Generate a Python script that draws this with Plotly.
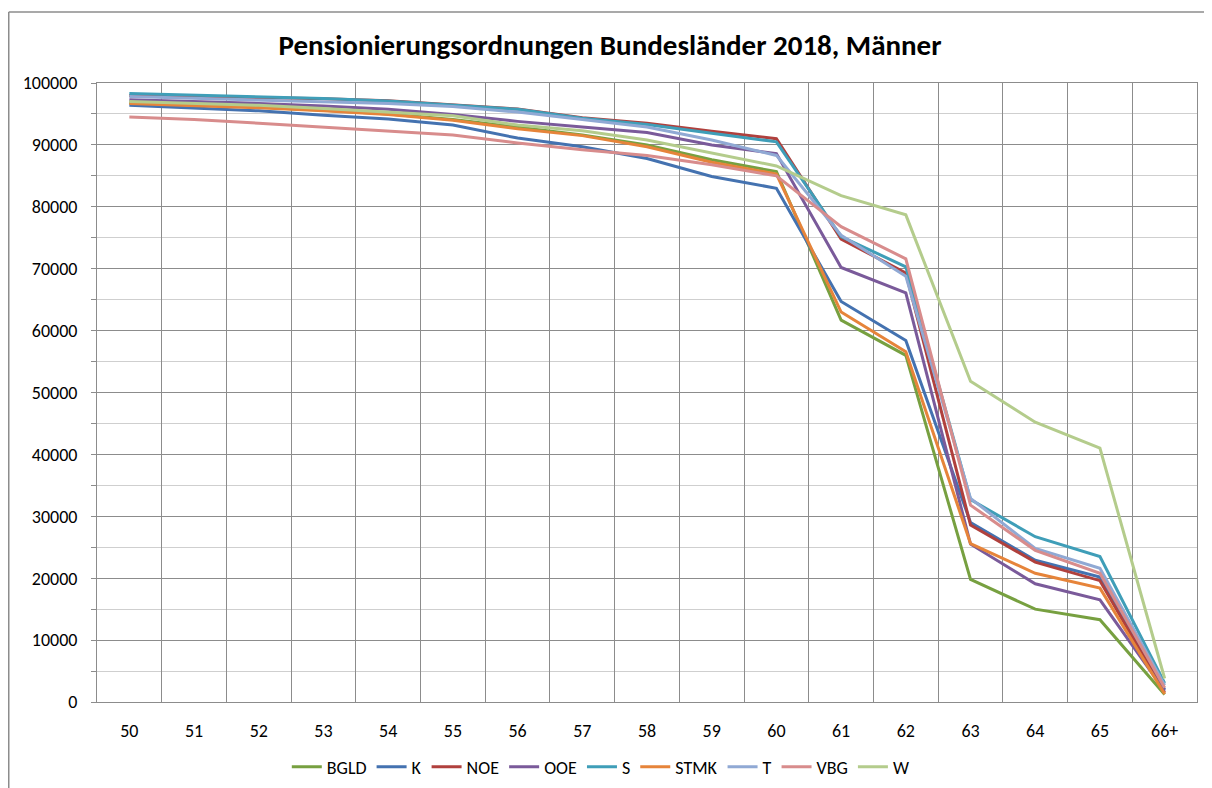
import plotly.graph_objects as go

categories = ["50", "51", "52", "53", "54", "55", "56", "57", "58", "59", "60",
              "61", "62", "63", "64", "65", "66+"]

series_names = ["BGLD", "K", "NOE", "OOE", "S", "STMK", "T", "VBG", "W"]

BGLD = [96800, 96500, 96100, 95600, 95000, 94100, 92800, 91600, 90000, 87600, 85700, 61700, 56000, 19800, 15000, 13300, 1200]
K = [96400, 96000, 95500, 94800, 94200, 93200, 91100, 89700, 87800, 84900, 83000, 64700, 58400, 29000, 22900, 20200, 2000]
NOE = [98000, 97850, 97650, 97450, 97150, 96500, 95800, 94400, 93500, 92200, 91000, 74800, 69300, 28600, 22600, 19600, 1500]
OOE = [97300, 97050, 96700, 96300, 95750, 94900, 93800, 92900, 92000, 90000, 88600, 70200, 66100, 25500, 19100, 16500, 1800]
S = [98300, 98050, 97800, 97500, 97100, 96450, 95750, 94300, 93300, 91900, 90500, 75200, 70300, 32700, 26700, 23500, 3050]
STMK = [96700, 96400, 96000, 95500, 94900, 94000, 92600, 91500, 89700, 87200, 85300, 63000, 56600, 25600, 20800, 18400, 1300]
T = [97800, 97550, 97300, 97050, 96700, 96200, 95300, 94100, 92900, 90800, 88300, 75400, 68800, 32900, 24800, 21600, 2700]
VBG = [94500, 94100, 93500, 92900, 92200, 91600, 90300, 89200, 88300, 86800, 85000, 76800, 71600, 31800, 24500, 20800, 2300]
W = [97000, 96750, 96400, 95900, 95350, 94700, 93200, 92300, 90800, 88700, 86600, 81800, 78700, 51800, 45200, 41000, 3800]

values = [BGLD, K, NOE, OOE, S, STMK, T, VBG, W]
colors = ["#77A040", "#4472B0", "#B0403D", "#7A5A9A", "#3F9EB8",
          "#E6843A", "#90A9D4", "#D88C8C", "#B4CC8C"]

FONT = "Carlito, Lato, 'Liberation Sans', sans-serif"

# page body has an 8px default margin, so the figure is sized/offset to compensate
W_FIG, H_FIG = 1204, 780

fig = go.Figure()
for name, vals, col in zip(series_names, values, colors):
    fig.add_trace(go.Scatter(x=categories, y=vals, name=name, mode="lines",
                             line=dict(color=col, width=3)))

fig.update_layout(
    width=W_FIG, height=H_FIG,
    paper_bgcolor="white", plot_bgcolor="white",
    margin=dict(l=89, r=15, t=75, b=86, autoexpand=False),
    font=dict(family=FONT, size=18, color="black"),
    title=dict(text="<b>Pensionierungsordnungen Bundesländer 2018, Männer</b>",
               x=0.5, xanchor="center", y=1 - 37 / H_FIG, yanchor="middle",
               yref="container", font=dict(size=29, family=FONT)),
    legend=dict(orientation="h", x=0.458, xanchor="center", y=-0.105, yanchor="middle",
                font=dict(size=18, family=FONT), itemwidth=30, tracegroupgap=0),
    showlegend=True,
)

fig.update_xaxes(type="category", range=[-0.5, len(categories) - 0.5],
                 tickson="boundaries", showgrid=True, automargin=False,
                 gridcolor="#8c8c8c", gridwidth=1, ticks="", showline=True,
                 linecolor="#8c8c8c", linewidth=1, mirror=True,
                 ticklabelstandoff=12, tickfont=dict(size=18))
fig.update_yaxes(range=[0, 100000], dtick=10000, tickformat="d", showgrid=True,
                 gridcolor="#8c8c8c", gridwidth=1, showline=True, automargin=False,
                 linecolor="#8c8c8c", linewidth=1, mirror=True,
                 ticks="outside", ticklen=5, tickcolor="#8c8c8c",
                 ticklabelstandoff=10, zeroline=False,
                 minor=dict(dtick=5000, showgrid=True, gridcolor="#cfcfcf",
                            ticks="outside", ticklen=5, tickcolor="#8c8c8c"),
                 tickfont=dict(size=18))

# outer chart frame (left and top edges visible)
fx = (0.75 - 89) / 1100
fy = 1 + (75 - 4) / 619
fig.add_shape(type="line", xref="paper", yref="paper", x0=fx, x1=fx, y0=-0.2, y1=fy,
              line=dict(color="#8c8c8c", width=1.5))
fig.add_shape(type="line", xref="paper", yref="paper", x0=fx, x1=1.1, y0=fy, y1=fy,
              line=dict(color="#8c8c8c", width=1.5))

fig.write_html("out.html")
